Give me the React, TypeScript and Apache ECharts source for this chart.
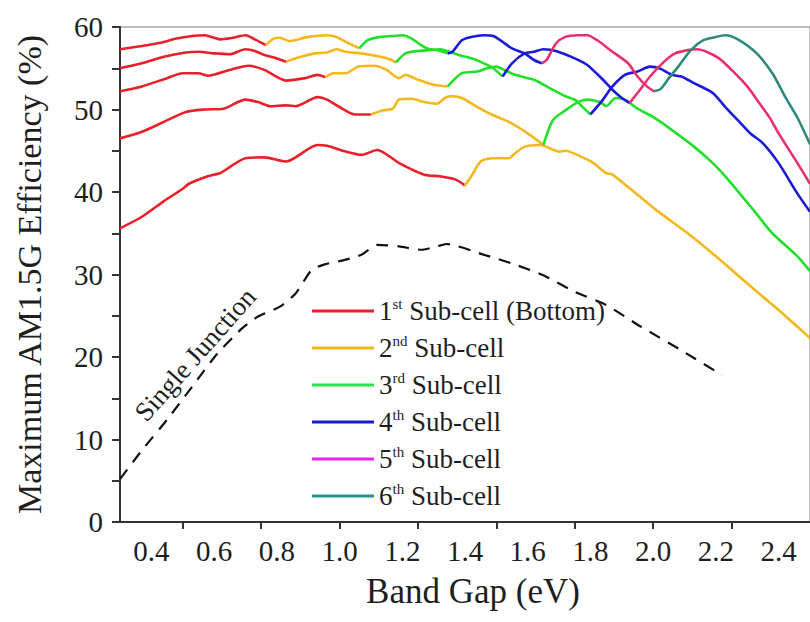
import React, { useEffect, useRef } from "react";
import * as echarts from "echarts";

// Band gap (eV) vs maximum AM1.5G efficiency (%), one array per sub-cell segment.
const singleJunction: number[][] = [
  [0.30, 5.2], [0.37, 8.7], [0.45, 12.4], [0.53, 16.4], [0.61, 20.4], [0.69, 23.5],
  [0.74, 24.9], [0.81, 26.1], [0.86, 27.7], [0.91, 30.5], [0.95, 31.2], [1.02, 31.8],
  [1.07, 32.4], [1.12, 33.6], [1.19, 33.4], [1.26, 33.0], [1.31, 33.4], [1.34, 33.7],
  [1.46, 32.4], [1.56, 31.2], [1.65, 29.9], [1.75, 27.9], [1.85, 26.3], [1.96, 23.7],
  [2.09, 20.8], [2.22, 17.8],
];

// Two junctions
const twoJ_sub1: number[][] = [
  [0.30, 35.6], [0.37, 37.0], [0.44, 38.9], [0.50, 40.4], [0.52, 41.0], [0.58, 41.9],
  [0.62, 42.3], [0.70, 44.1], [0.76, 44.2], [0.83, 43.7], [0.93, 45.7], [0.96, 45.6],
  [1.02, 44.9], [1.07, 44.5], [1.12, 45.1], [1.19, 43.5], [1.27, 42.1], [1.32, 41.9],
  [1.37, 41.5], [1.40, 40.8],
];
const twoJ_sub2: number[][] = [
  [1.40, 40.8], [1.42, 41.9], [1.45, 43.7], [1.49, 44.1], [1.54, 44.1], [1.56, 44.7],
  [1.59, 45.5], [1.64, 45.7], [1.70, 44.9], [1.72, 45.0], [1.78, 44.1], [1.81, 43.5],
  [1.85, 42.3], [1.87, 42.1], [1.92, 40.6], [2.01, 37.8], [2.11, 35.0], [2.20, 32.2],
  [2.30, 28.9], [2.40, 25.7], [2.50, 22.3],
];

// Three junctions
const threeJ_sub1: number[][] = [
  [0.30, 46.5], [0.37, 47.3], [0.44, 48.5], [0.51, 49.7], [0.57, 50.0], [0.63, 50.1],
  [0.70, 51.2], [0.74, 50.9], [0.78, 50.4], [0.83, 50.5], [0.86, 50.4], [0.93, 51.5],
  [0.96, 51.2], [1.00, 50.3], [1.05, 49.4], [1.10, 49.4],
];
const threeJ_sub2: number[][] = [
  [1.10, 49.4], [1.14, 49.9], [1.17, 50.1], [1.19, 51.2], [1.23, 51.3], [1.27, 50.9],
  [1.31, 50.7], [1.34, 51.5], [1.36, 51.6], [1.39, 51.4], [1.44, 50.3], [1.49, 49.3],
  [1.54, 48.5], [1.60, 47.1], [1.65, 45.7],
];
const threeJ_sub3: number[][] = [
  [1.65, 45.7], [1.68, 48.7], [1.72, 49.9], [1.76, 50.9], [1.79, 51.2], [1.83, 50.9],
  [1.85, 50.4], [1.88, 51.4], [1.91, 51.2], [1.95, 50.1], [2.00, 49.1], [2.06, 47.5],
  [2.13, 45.5], [2.19, 43.5], [2.23, 41.9], [2.32, 37.8], [2.38, 35.0], [2.46, 32.2],
  [2.50, 30.4],
];

// Four junctions
const fourJ_sub1: number[][] = [
  [0.30, 52.2], [0.37, 52.8], [0.45, 53.8], [0.50, 54.4], [0.55, 54.4], [0.58, 54.1],
  [0.65, 54.8], [0.71, 55.3], [0.76, 54.8], [0.83, 53.5], [0.89, 53.8], [0.93, 54.2],
  [0.955, 53.9],
];
const fourJ_sub2: number[][] = [
  [0.955, 53.9], [0.98, 54.4], [1.02, 54.4], [1.06, 55.2], [1.11, 55.3], [1.15, 54.8],
  [1.19, 53.8], [1.21, 54.2], [1.25, 53.6], [1.30, 53.0], [1.345, 52.8],
];
const fourJ_sub3: number[][] = [
  [1.345, 52.8], [1.39, 54.4], [1.44, 54.6], [1.47, 55.0], [1.50, 55.2], [1.53, 54.7],
  [1.56, 54.2], [1.62, 53.6], [1.67, 52.6], [1.72, 51.6], [1.75, 51.2], [1.77, 50.5],
  [1.80, 49.4],
];
const fourJ_sub4: number[][] = [
  [1.80, 49.4], [1.84, 51.2], [1.87, 52.8], [1.91, 54.2], [1.95, 54.6], [1.99, 55.2],
  [2.02, 55.0], [2.06, 54.2], [2.09, 54.0], [2.13, 53.2], [2.19, 52.0], [2.23, 50.3],
  [2.28, 48.3], [2.31, 47.1], [2.35, 45.9], [2.40, 43.5], [2.46, 39.8], [2.50, 37.6],
];

// Five junctions
const fiveJ_sub1: number[][] = [
  [0.30, 55.0], [0.37, 55.6], [0.44, 56.4], [0.51, 56.9], [0.55, 57.0], [0.60, 56.8],
  [0.65, 56.7], [0.70, 57.3], [0.73, 57.1], [0.76, 56.6], [0.79, 56.3], [0.83, 55.8],
];
const fiveJ_sub2: number[][] = [
  [0.83, 55.8], [0.86, 56.2], [0.92, 56.8], [0.96, 56.9], [0.99, 57.3], [1.02, 57.0],
  [1.07, 56.8], [1.13, 56.4], [1.16, 56.1], [1.18, 55.7],
];
const fiveJ_sub3: number[][] = [
  [1.18, 55.7], [1.21, 56.8], [1.25, 57.1], [1.29, 57.2], [1.32, 57.3], [1.35, 57.0],
  [1.38, 56.6], [1.43, 56.1], [1.46, 55.6], [1.49, 55.0], [1.52, 54.0],
];
const fiveJ_sub4: number[][] = [
  [1.52, 54.0], [1.55, 55.6], [1.59, 56.8], [1.62, 57.0], [1.65, 57.3], [1.69, 57.1],
  [1.75, 56.2], [1.79, 55.4], [1.84, 53.6], [1.87, 52.4], [1.90, 51.4], [1.925, 50.8],
];
const fiveJ_sub5: number[][] = [
  [1.925, 50.8], [1.95, 52.0], [1.99, 54.0], [2.035, 55.8], [2.07, 56.8], [2.11, 57.2],
  [2.14, 57.3], [2.17, 57.0], [2.21, 56.2], [2.25, 54.8], [2.30, 52.8], [2.34, 50.7],
  [2.37, 49.1], [2.40, 47.1], [2.46, 43.5], [2.50, 41.0],
];

// Six junctions
const sixJ_sub1: number[][] = [
  [0.30, 57.3], [0.37, 57.7], [0.43, 58.1], [0.48, 58.6], [0.53, 58.9], [0.57, 59.0],
  [0.60, 58.7], [0.62, 58.5], [0.66, 58.7], [0.70, 59.0], [0.73, 58.5], [0.765, 57.8],
];
const sixJ_sub2: number[][] = [
  [0.765, 57.8], [0.79, 58.6], [0.81, 58.7], [0.84, 58.3], [0.90, 58.8], [0.96, 59.0],
  [0.99, 58.8], [1.02, 58.2], [1.063, 57.4],
];
const sixJ_sub3: number[][] = [
  [1.063, 57.4], [1.09, 58.4], [1.13, 58.8], [1.17, 58.9], [1.20, 59.0], [1.23, 58.6],
  [1.26, 57.8], [1.28, 57.4], [1.31, 57.2], [1.345, 56.8],
];
const sixJ_sub4: number[][] = [
  [1.345, 56.8], [1.36, 57.0], [1.39, 58.4], [1.42, 58.8], [1.46, 59.0], [1.49, 58.9],
  [1.52, 58.2], [1.55, 57.4], [1.59, 56.8], [1.62, 56.0], [1.645, 55.6],
];
const sixJ_sub5: number[][] = [
  [1.645, 55.6], [1.66, 56.0], [1.69, 58.0], [1.72, 58.8], [1.76, 59.0], [1.79, 59.0],
  [1.825, 58.3], [1.87, 57.0], [1.92, 55.6], [1.95, 54.0], [1.98, 52.8], [2.003, 52.2],
];
const sixJ_sub6: number[][] = [
  [2.003, 52.2], [2.024, 52.5], [2.05, 53.8], [2.08, 55.2], [2.12, 57.2], [2.16, 58.4],
  [2.20, 58.8], [2.23, 59.0], [2.27, 58.5], [2.33, 56.8], [2.38, 54.4], [2.42, 51.6],
  [2.46, 49.0], [2.50, 45.8],
];

const subCellNames = [
  "1st Sub-cell (Bottom)",
  "2nd Sub-cell",
  "3rd Sub-cell",
  "4th Sub-cell",
  "5th Sub-cell",
  "6th Sub-cell",
];
const curveColors = ["#e8202a", "#f4b81c", "#22e02a", "#1a1ad8", "#e8306c", "#2e8a7c"];
const legendColors = ["#e8202a", "#f4b81c", "#30e050", "#1a1ad0", "#f020f0", "#1f9590"];

// Each junction count is a chain of segments; index in the chain = sub-cell.
const junctionCurves: number[][][][] = [
  [twoJ_sub1, twoJ_sub2],
  [threeJ_sub1, threeJ_sub2, threeJ_sub3],
  [fourJ_sub1, fourJ_sub2, fourJ_sub3, fourJ_sub4],
  [fiveJ_sub1, fiveJ_sub2, fiveJ_sub3, fiveJ_sub4, fiveJ_sub5],
  [sixJ_sub1, sixJ_sub2, sixJ_sub3, sixJ_sub4, sixJ_sub5, sixJ_sub6],
];

const xLabelValues = [0.4, 0.6, 0.8, 1.0, 1.2, 1.4, 1.6, 1.8, 2.0, 2.2, 2.4];
const xTickValues = [0.5, 0.75, 1.0, 1.25, 1.5, 1.75, 2.0, 2.25];

const FONT = "'Liberation Serif', 'Times New Roman', serif";
const TEXT = "#1e1e1e";

export default function App() {
  const ref = useRef<HTMLDivElement>(null);

  useEffect(() => {
    if (!ref.current) return;
    const chart = echarts.init(ref.current, undefined, { renderer: "svg" });

    const series: any[] = [];
    junctionCurves.forEach((chain) => {
      chain.forEach((seg, cell) => {
        series.push({
          type: "line",
          name: subCellNames[cell],
          data: seg,
          symbol: "none",
          smooth: 0.25,
          silent: true,
          lineStyle: { color: curveColors[cell], width: 2.6 },
          itemStyle: { color: curveColors[cell] },
        });
      });
    });
    series.push({
      type: "line",
      name: "Single Junction",
      data: singleJunction,
      symbol: "none",
      smooth: 0.2,
      silent: true,
      lineStyle: { color: "#111", width: 2.2, type: [12, 9] },
    });

    chart.setOption({
      animation: false,
      grid: {
        left: 120,
        top: 27,
        width: 702,
        height: 495,
        show: true,
        borderColor: "#a8a8a8",
        borderWidth: 1.5,
        backgroundColor: "transparent",
      },
      xAxis: {
        type: "value",
        min: 0.3,
        max: 2.5,
        name: "Band Gap (eV)",
        nameLocation: "middle",
        nameGap: 52,
        nameTextStyle: { fontFamily: FONT, fontSize: 35, color: TEXT, padding: [0, 0, 0, 16] },
        axisLine: { lineStyle: { color: "#333", width: 2 } },
        axisTick: { show: true, length: 7, customValues: xTickValues, lineStyle: { color: "#333", width: 2 } },
        axisLabel: {
          customValues: xLabelValues,
          formatter: (v: number) => v.toFixed(1),
          fontFamily: FONT,
          fontSize: 29,
          color: TEXT,
          margin: 14,
        },
        splitLine: { show: false },
      },
      yAxis: {
        type: "value",
        min: 0,
        max: 60,
        interval: 5,
        name: "Maximum AM1.5G Efficiency (%)",
        nameLocation: "middle",
        nameGap: 74,
        nameTextStyle: { fontFamily: FONT, fontSize: 34, color: TEXT },
        axisLine: { show: true, lineStyle: { color: "#333", width: 2 } },
        axisTick: { show: true, length: 8, lineStyle: { color: "#333", width: 2 } },
        axisLabel: {
          formatter: (v: number) => (v % 10 === 0 ? String(v) : ""),
          fontFamily: FONT,
          fontSize: 29,
          color: TEXT,
          margin: 17,
        },
        splitLine: { show: false },
      },
      legend: {
        data: subCellNames.map((n, i) => ({
          name: n,
          itemStyle: { color: legendColors[i] },
        })),
        icon: "rect",
        orient: "vertical",
        left: 307,
        top: 291,
        itemWidth: 62,
        itemHeight: 3,
        itemGap: 7,
        selectedMode: false,
        formatter: (name: string) => {
          const m = name.match(/^(\d)(st|nd|rd|th)(.*)$/);
          if (!m) return name;
          return `{n|${m[1]}}{s|${m[2]}}{n|${m[3]}}`;
        },
        textStyle: {
          fontFamily: FONT,
          fontSize: 27,
          color: TEXT,
          lineHeight: 30,
          rich: {
            n: { fontFamily: FONT, fontSize: 27, color: TEXT, lineHeight: 30 },
            s: { fontFamily: FONT, fontSize: 15, color: TEXT, lineHeight: 15, verticalAlign: "top" },
          },
        },
      },
      series,
    });

    // Annotation placed along the single-junction curve, in data coordinates.
    const p = chart.convertToPixel({ gridIndex: 0 }, [0.54, 20.3]) as number[];
    chart.setOption({
      graphic: [
        {
          type: "text",
          x: p[0],
          y: p[1],
          rotation: (48.5 * Math.PI) / 180,
          silent: true,
          style: {
            text: "Single Junction",
            fontFamily: FONT,
            fontSize: 27,
            fill: TEXT,
            align: "center",
            verticalAlign: "middle",
          },
        },
      ],
    });

    return () => chart.dispose();
  }, []);

  return (
    <div
      ref={ref}
      style={{ position: "fixed", left: 0, top: 0, width: 810, height: 622, background: "#fff" }}
    />
  );
}
